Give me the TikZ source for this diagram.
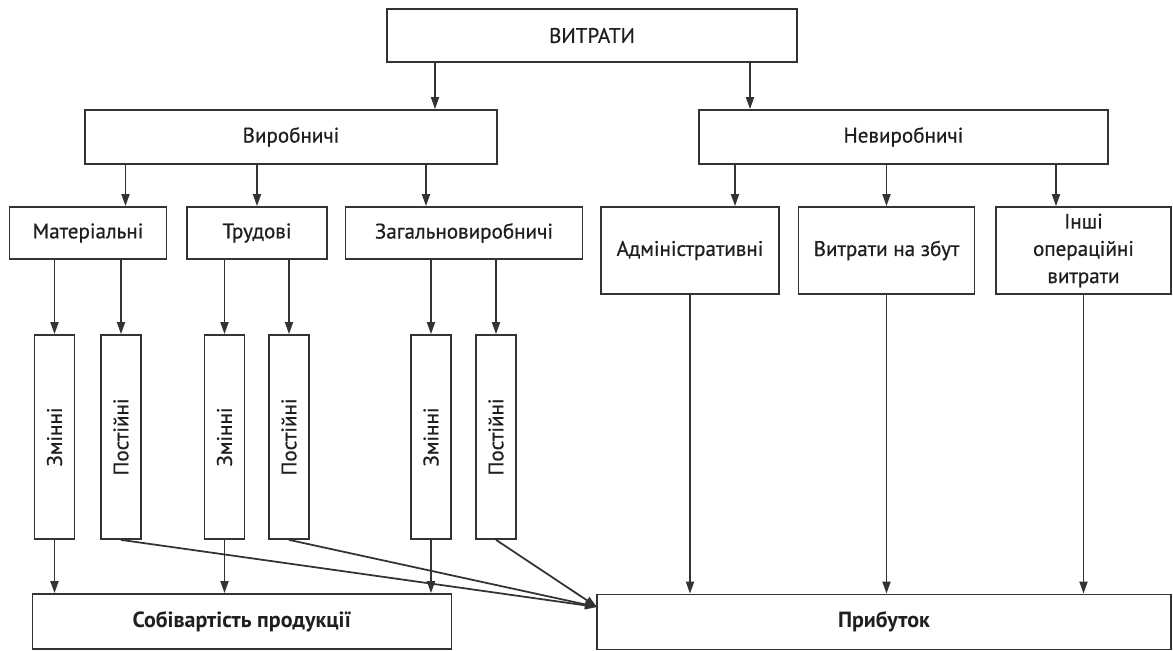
\documentclass[tikz,border=0pt]{standalone}
\usepackage{fontspec}
\usepackage{graphicx}
\setmainfont{PT Sans}[UprightFeatures={FakeBold=0.6}]
\usetikzlibrary{arrows.meta,positioning}
\definecolor{linea}{rgb}{0.2,0.2,0.2}
\definecolor{texto}{rgb}{0.12,0.12,0.12}
\tikzset{
  caja/.style={
    draw=linea,
    line width=1pt,
    align=center,
    inner sep=2pt,
    text=texto,
    font=\fontsize{12}{15.5}\selectfont
  },
  columna/.style={
    caja,
    minimum width=8mm,
    minimum height=40.8mm,
    inner sep=0pt
  },
  total/.style={
    caja,
    minimum height=11mm,
    font=\fontsize{12.5}{15}\selectfont\bfseries
  },
  arrow/.style={
    -{Triangle[length=2.4mm,width=1.6mm]},
    line width=1pt,
    linea
  }
}

\begin{document}
\begin{tikzpicture}[x=0.2mm,y=-0.2mm]
\useasboundingbox (0,0) rectangle (1173,651);
% niveles de arriba
\node[caja, minimum width=82mm, minimum height=10.6mm] (vyt) at (592,35.5) {ВИТРАТИ};
\node[caja, minimum width=82.4mm, minimum height=10.8mm] (vyr) at (291,137) {Виробничі};
\node[caja, minimum width=81.8mm, minimum height=10.8mm] (nev) at (903.5,137) {Невиробничі};
\node[caja, minimum width=31.4mm, minimum height=10.4mm] (mat) at (88,233) {Матеріальні};
\node[caja, minimum width=28mm, minimum height=10.4mm] (tru) at (257,233) {Трудові};
\node[caja, minimum width=47.4mm, minimum height=10.4mm] (zag) at (464,233) {Загальновиробничі};
\node[caja, minimum width=35.6mm, minimum height=17.4mm] (adm) at (690,250.5) {Адміністративні};
\node[caja, minimum width=35.2mm, minimum height=17.4mm] (zbu) at (886.5,250.5) {Витрати на збут};
\node[caja, minimum width=35mm, minimum height=17.4mm] (inh) at (1083.5,250.5) {Інші\\операційні\\витрати};
% columnas
\node[columna] (z1) at (54.5,437) {\rotatebox{90}{Змінні}};
\node[columna] (p1) at (121,437) {\rotatebox{90}{Постійні}};
\node[columna] (z2) at (224.5,437) {\rotatebox{90}{Змінні}};
\node[columna] (p2) at (289,437) {\rotatebox{90}{Постійні}};
\node[columna] (z3) at (431,437) {\rotatebox{90}{Змінні}};
\node[columna] (p3) at (496,437) {\rotatebox{90}{Постійні}};
% resultados
\node[total, minimum width=83.8mm] (sob) at (242,621.5) {Собівартість продукції};
\node[total, minimum width=114.8mm] (pry) at (884,622) {Прибуток};
\coordinate (entrada) at (597,607);

\draw[arrow] (435,0 |- vyt.south) -- (435,0 |- vyr.north);
\draw[arrow] (750,0 |- vyt.south) -- (750,0 |- nev.north);
\draw[arrow] (125.5,0 |- vyr.south) -- (125.5,0 |- mat.north);
\draw[arrow] (tru.north |- vyr.south) -- (tru.north);
\draw[arrow] (426,0 |- vyr.south) -- (426,0 |- zag.north);
\draw[arrow] (735,0 |- nev.south) -- (735,0 |- adm.north);
\draw[arrow] (zbu.north |- nev.south) -- (zbu.north);
\draw[arrow] (1056,0 |- nev.south) -- (1056,0 |- inh.north);
\draw[arrow] (z1.north |- mat.south) -- (z1.north);
\draw[arrow] (p1.north |- mat.south) -- (p1.north);
\draw[arrow] (z2.north |- tru.south) -- (z2.north);
\draw[arrow] (p2.north |- tru.south) -- (p2.north);
\draw[arrow] (z3.north |- zag.south) -- (z3.north);
\draw[arrow] (p3.north |- zag.south) -- (p3.north);
\draw[arrow] (z1.south) -- (z1.south |- sob.north);
\draw[arrow] (z2.south) -- (z2.south |- sob.north);
\draw[arrow] (z3.south) -- (z3.south |- sob.north);
\draw[arrow] (p1.south) -- (entrada);
\draw[arrow] (p2.south) -- (entrada);
\draw[arrow] (p3.south) -- (entrada);
\draw[arrow] (adm.south) -- (adm.south |- pry.north);
\draw[arrow] (zbu.south) -- (zbu.south |- pry.north);
\draw[arrow] (inh.south) -- (inh.south |- pry.north);
\end{tikzpicture}
\end{document}
